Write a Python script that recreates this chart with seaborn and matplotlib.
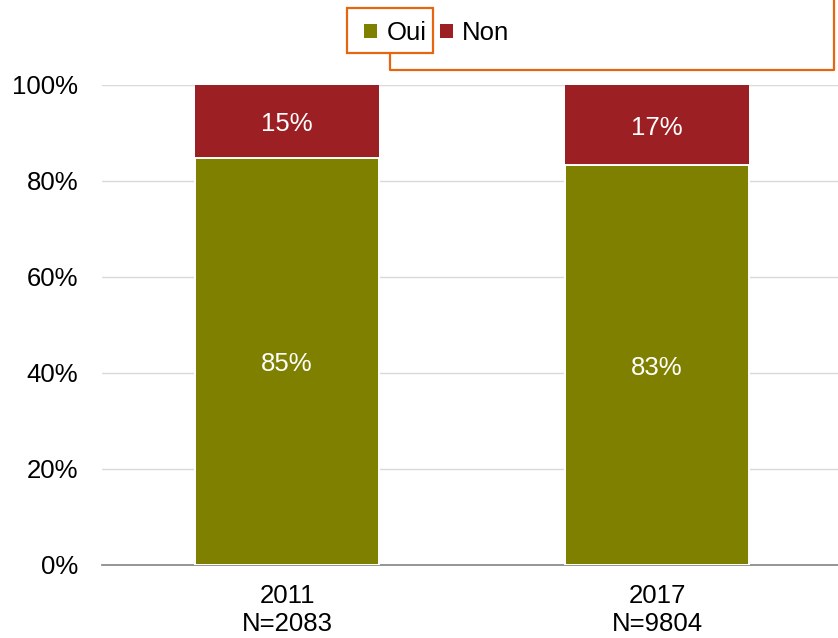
import matplotlib
matplotlib.use("Agg")
import matplotlib.pyplot as plt
import seaborn as sns
import pandas as pd
from matplotlib.patches import Patch
from matplotlib.lines import Line2D
from matplotlib.patches import Rectangle

years = ["2011", "2017"]
sample_sizes = ["N=2083", "N=9804"]
oui = [84.8, 83.3]
non = [15.2, 16.7]
oui_labels = ["85%", "83%"]
non_labels = ["15%", "17%"]
yticks = [0, 20, 40, 60, 80, 100]

sns.set_theme(style="white")
plt.rcParams['font.family'] = ['Liberation Sans', 'DejaVu Sans']

OLIVE = "#7F7F00"
RED = "#9C1F24"
ORANGE = "#E8650F"
FS = 18.5

cats = [f"{y}\n{n}" for y, n in zip(years, sample_sizes)]
df = pd.DataFrame({"cat": cats, "oui": oui, "non": non})
df["total"] = df["oui"] + df["non"]

fig = plt.figure(figsize=(8.38, 6.38), dpi=100)
ax = fig.add_axes([102/838, 1-565/638, 740/838, (565-85)/638])

for y in yticks[1:]:
    ax.axhline(y, color="#D9D9D9", lw=1.0, zorder=0)

sns.barplot(data=df, x="cat", y="total", color=RED, width=0.495, ax=ax,
            saturation=1, edgecolor="none", zorder=2)
sns.barplot(data=df, x="cat", y="oui", color=OLIVE, width=0.495, ax=ax,
            saturation=1, edgecolor="white", linewidth=1.4, zorder=3)

for i in range(len(cats)):
    ax.text(i, oui[i] / 2, oui_labels[i], ha="center", va="center_baseline",
            color="white", fontsize=FS, zorder=5)
    ax.text(i, oui[i] + non[i] / 2, non_labels[i], ha="center",
            va="center_baseline", color="white", fontsize=FS, zorder=5)

ax.set_xlim(-0.5, 1.5)
ax.set_ylim(0, 100)
ax.set_yticks(yticks)
ax.set_yticklabels([f"{t}%" for t in yticks])
ax.set_xlabel("")
ax.set_ylabel("")
for s in ["left", "right", "top"]:
    ax.spines[s].set_visible(False)
ax.spines["bottom"].set_color("#8C8C8C")
ax.spines["bottom"].set_linewidth(1.3)
ax.tick_params(axis="y", length=0, pad=17, labelsize=FS, colors="black")
ax.tick_params(axis="x", length=0, pad=14, labelsize=FS, colors="black")
for lbl in ax.get_xticklabels():
    lbl.set_linespacing(1.2)

handles = [Patch(facecolor=OLIVE, edgecolor="none", label="Oui"),
           Patch(facecolor=RED, edgecolor="none", label="Non")]
leg = fig.legend(handles=handles, loc="center", bbox_to_anchor=(437/838, 1-33/638),
                 ncol=2, frameon=False, fontsize=FS, handlelength=0.5,
                 handleheight=0.5, handletextpad=0.35, columnspacing=0.55)
for t in leg.get_texts():
    t.set_color("black")

# orange callout box around legend entry
W, H = 838, 638
fig.patches.append(Rectangle((347/W, 1-53/H), (433-347)/W, (53-8)/H,
                             transform=fig.transFigure, fill=False,
                             edgecolor=ORANGE, lw=1.6))
fig.lines.append(Line2D([390/W, 390/W, 834/W, 834/W],
                        [1-53/H, 1-70/H, 1-70/H, 1.02],
                        transform=fig.transFigure, color=ORANGE, lw=1.6))

fig.savefig("out.png", dpi=100)
